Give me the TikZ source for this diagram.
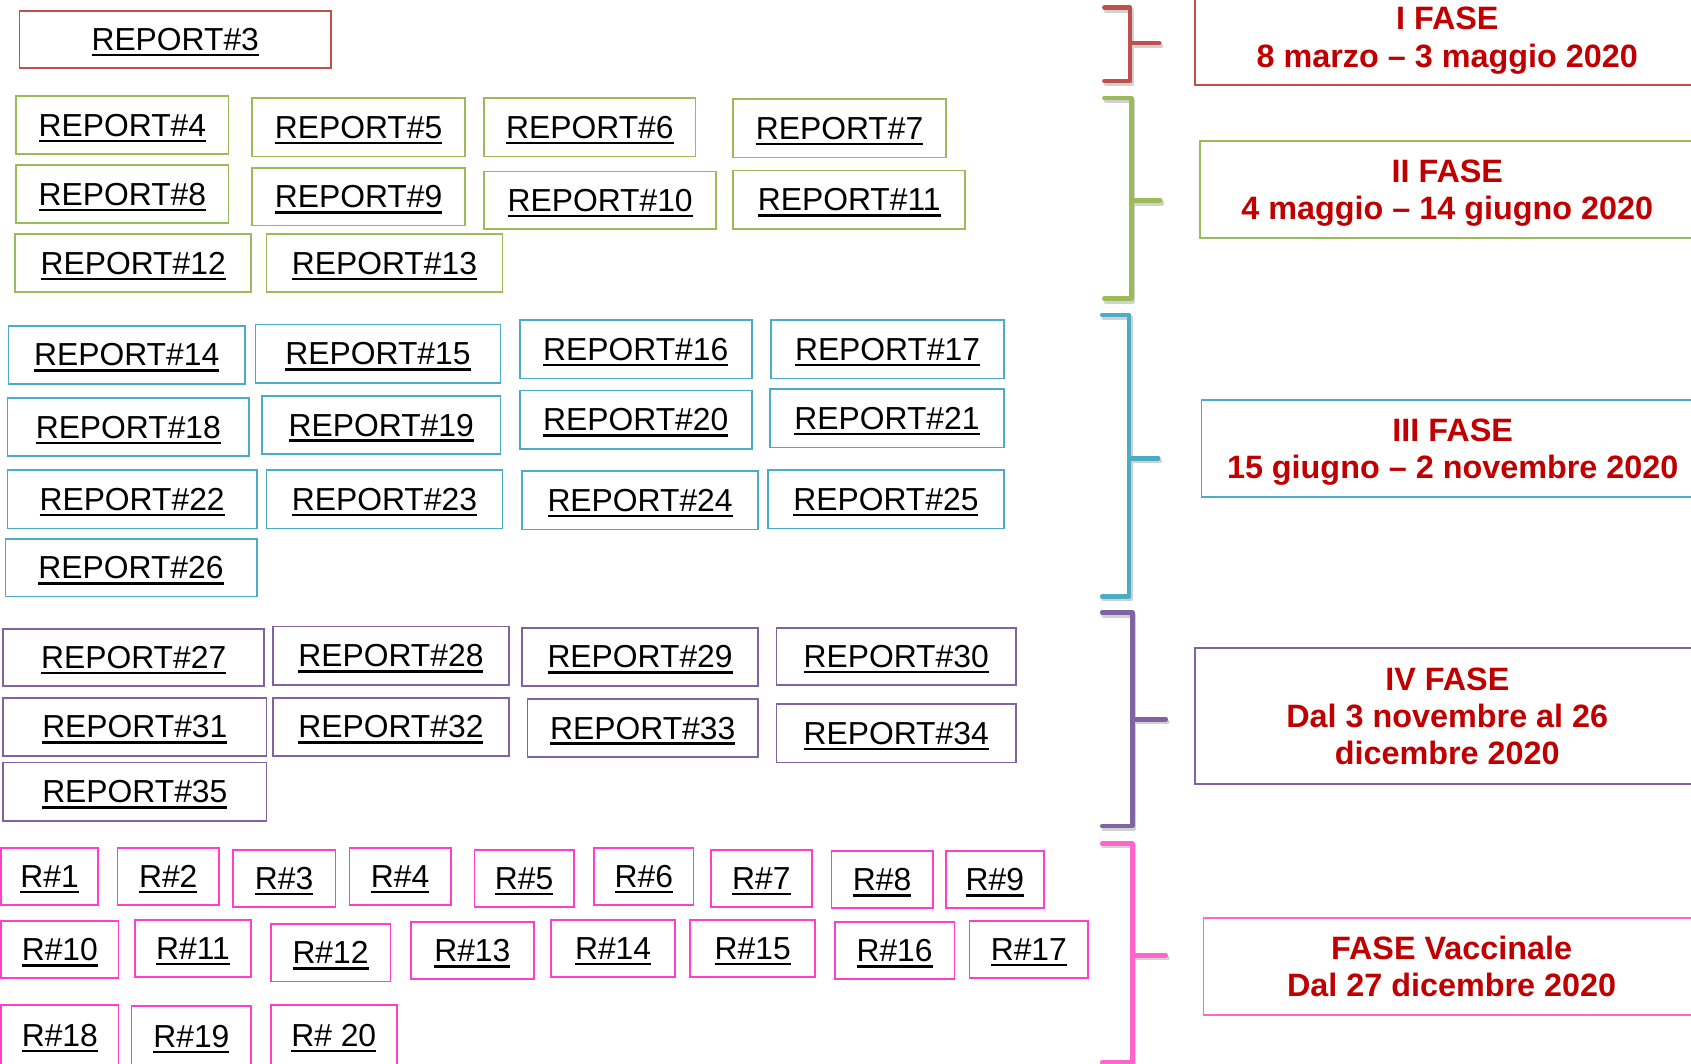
\documentclass[tikz,border=0pt]{standalone}
\usepackage{fontspec}
\setmainfont{Liberation Sans}
\definecolor{cred}{HTML}{C0504D}
\definecolor{cgreen}{HTML}{9BBB59}
\definecolor{ccyan}{HTML}{4BACC6}
\definecolor{cpurple}{HTML}{8064A2}
\definecolor{cpink}{HTML}{FF3FCC}
\definecolor{cpinkb}{HTML}{FF66CC}
\definecolor{ctext}{HTML}{C00000}
\newcommand\myul[1]{\setbox0\hbox{#1}\rlap{\rule[-5.5pt]{\wd0}{2.4pt}}\box0}
\newcommand\bx[7]{\node[rbox, draw=#2, minimum width={#5-#3}, minimum height={#6-#4}] (#1) at ({(#3+#5)/2},{(#4+#6)/2}) {\myul{#7}};}
\newcommand\ph[8]{\node[phbox, draw=#2, minimum width={#5-#3}, minimum height={#6-#4}] (#1) at ({(#3+#5)/2},{(#4+#6)/2}) {#7};}
\tikzset{
  rbox/.style={rectangle, line width=1.6pt, inner sep=0pt, outer sep=0pt, text depth=0pt,
    font=\fontsize{29.5}{34}\selectfont},
  phbox/.style={rectangle, line width=1.6pt, inner sep=0pt, outer sep=0pt, text depth=0pt,
    align=center, text=ctext, font=\fontsize{30}{34.5}\selectfont\bfseries},
  brk/.style={line width=4.2pt, line join=round, line cap=round},
  brkshadow/.style={line width=4.2pt, line join=round, line cap=round, draw=black, opacity=0.18}
}
\begin{document}
\begin{tikzpicture}[x=1pt,y=-1pt]
\useasboundingbox (0,0) rectangle (1568,986);
\clip (0,0) rectangle (1568,986);
% report boxes
\bx{r3}{cred}{18}{10}{307}{63}{REPORT\#3}
\bx{r4}{cgreen}{15}{89}{212}{143}{REPORT\#4}
\bx{r5}{cgreen}{234}{91}{431}{145}{REPORT\#5}
\bx{r6}{cgreen}{449}{91}{645}{145}{REPORT\#6}
\bx{r7}{cgreen}{680}{92}{877}{146}{REPORT\#7}
\bx{r8}{cgreen}{15}{153}{212}{207}{REPORT\#8}
\bx{r9}{cgreen}{234}{156}{431}{209}{REPORT\#9}
\bx{r10}{cgreen}{449}{159}{664}{212}{REPORT\#10}
\bx{r11}{cgreen}{680}{158}{895}{212}{REPORT\#11}
\bx{r12}{cgreen}{14}{217}{233}{271}{REPORT\#12}
\bx{r13}{cgreen}{247}{217}{466}{271}{REPORT\#13}
\bx{r14}{ccyan}{8}{302}{227}{356}{REPORT\#14}
\bx{r15}{ccyan}{237}{301}{464}{355}{REPORT\#15}
\bx{r16}{ccyan}{482}{297}{697}{351}{REPORT\#16}
\bx{r17}{ccyan}{715}{297}{931}{351}{REPORT\#17}
\bx{r18}{ccyan}{7}{369}{231}{423}{REPORT\#18}
\bx{r19}{ccyan}{243}{367}{464}{421}{REPORT\#19}
\bx{r20}{ccyan}{482}{362}{697}{416}{REPORT\#20}
\bx{r21}{ccyan}{714}{361}{931}{415}{REPORT\#21}
\bx{r22}{ccyan}{7}{436}{238}{490}{REPORT\#22}
\bx{r23}{ccyan}{247}{436}{466}{490}{REPORT\#23}
\bx{r24}{ccyan}{484}{437}{703}{491}{REPORT\#24}
\bx{r25}{ccyan}{712}{436}{931}{490}{REPORT\#25}
\bx{r26}{ccyan}{5}{500}{238}{553}{REPORT\#26}
\bx{r27}{cpurple}{3}{583}{245}{636}{REPORT\#27}
\bx{r28}{cpurple}{253}{581}{472}{635}{REPORT\#28}
\bx{r29}{cpurple}{484}{582}{703}{636}{REPORT\#29}
\bx{r30}{cpurple}{720}{582}{942}{635}{REPORT\#30}
\bx{r31}{cpurple}{3}{647}{247}{701}{REPORT\#31}
\bx{r32}{cpurple}{253}{647}{472}{701}{REPORT\#32}
\bx{r33}{cpurple}{489}{648}{703}{702}{REPORT\#33}
\bx{r34}{cpurple}{720}{653}{942}{707}{REPORT\#34}
\bx{r35}{cpurple}{3}{707}{247}{761}{REPORT\#35}
\bx{q1}{cpink}{1}{786}{91}{839}{R\#1}
\bx{q2}{cpink}{109}{786}{203}{839}{R\#2}
\bx{q3}{cpink}{216}{788}{311}{841}{R\#3}
\bx{q4}{cpink}{324}{786}{418}{839}{R\#4}
\bx{q5}{cpink}{440}{788}{532}{841}{R\#5}
\bx{q6}{cpink}{551}{786}{643}{839}{R\#6}
\bx{q7}{cpink}{659}{788}{753}{841}{R\#7}
\bx{q8}{cpink}{771}{789}{865}{842}{R\#8}
\bx{q9}{cpink}{877}{789}{968}{842}{R\#9}
\bx{q10}{cpink}{1}{854}{110}{907}{R\#10}
\bx{q11}{cpink}{125}{853}{233}{906}{R\#11}
\bx{q12}{cpink}{251}{857}{362}{910}{R\#12}
\bx{q13}{cpink}{381}{855}{495}{908}{R\#13}
\bx{q14}{cpink}{511}{853}{626}{906}{R\#14}
\bx{q15}{cpink}{640}{853}{756}{906}{R\#15}
\bx{q16}{cpink}{774}{855}{885}{908}{R\#16}
\bx{q17}{cpink}{899}{854}{1009}{907}{R\#17}
\bx{q18}{cpink}{1}{932}{110}{988}{R\#18}
\bx{q19}{cpink}{122}{933}{233}{989}{R\#19}
\bx{q20}{cpink}{251}{932}{368}{988}{R\# 20}
% phase boxes
\ph{f1}{cred}{1108}{-10}{1576}{79}{I FASE\\8 marzo -- 3 maggio 2020}{}
\ph{f2}{cgreen}{1113}{131}{1571}{221}{II FASE\\4 maggio -- 14 giugno 2020}{}
\ph{f3}{ccyan}{1114}{371}{1580}{461}{III FASE\\15 giugno -- 2 novembre 2020}{}
\ph{f4}{cpurple}{1108}{601}{1576}{727}{IV FASE\\Dal 3 novembre al 26\\dicembre 2020}{}
\ph{f5}{cpinkb}{1116}{851}{1576}{941}{FASE Vaccinale\\Dal 27 dicembre 2020}{}
% brackets: shadows
\begin{scope}[shift={(1.5,2.5)}]
\draw[brkshadow] (1024,7) -- (1048,7) -- (1048,75) -- (1024,75) (1048,40) -- (1075,40);
\draw[brkshadow] (1024,91) -- (1049,91) -- (1049,277) -- (1024,277) (1049,186) -- (1076,186);
\draw[brkshadow] (1022,292) -- (1047,292) -- (1047,553) -- (1022,553) (1047,425) -- (1074,425);
\draw[brkshadow] (1022,568) -- (1050,568) -- (1050,766) -- (1022,766) (1050,667) -- (1081,667);
\draw[brkshadow] (1022,782) -- (1050,782) -- (1050,985) -- (1022,985) (1050,886) -- (1081,886);
\end{scope}
% brackets
\draw[brk, cred] (1024,7) -- (1048,7) -- (1048,75) -- (1024,75) (1048,40) -- (1075,40);
\draw[brk, cgreen] (1024,91) -- (1049,91) -- (1049,277) -- (1024,277) (1049,186) -- (1076,186);
\draw[brk, ccyan] (1022,292) -- (1047,292) -- (1047,553) -- (1022,553) (1047,425) -- (1074,425);
\draw[brk, cpurple] (1022,568) -- (1050,568) -- (1050,766) -- (1022,766) (1050,667) -- (1081,667);
\draw[brk, cpinkb] (1022,782) -- (1050,782) -- (1050,985) -- (1022,985) (1050,886) -- (1081,886);
\end{tikzpicture}
\end{document}
